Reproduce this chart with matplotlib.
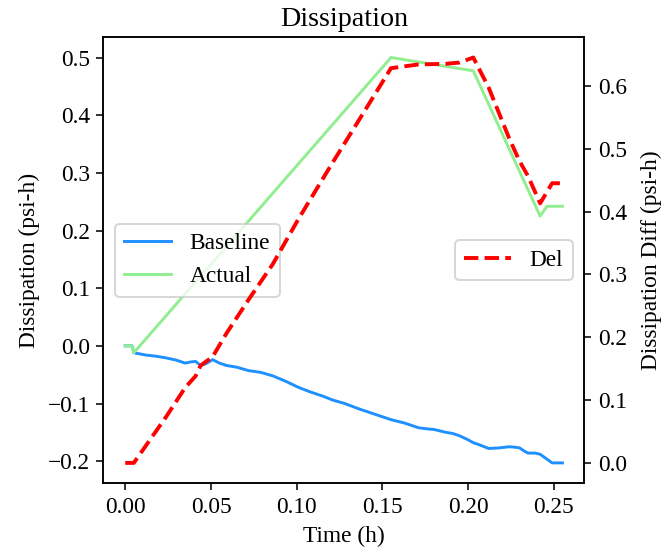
import numpy as np
import matplotlib.pyplot as plt

plt.rcParams['font.family'] = ['Liberation Serif', 'DejaVu Serif']
plt.rcParams['font.size'] = 12

# baseline dissipation (psi-h)
t_base = [0.0, 0.004, 0.005, 0.012, 0.018, 0.024, 0.030, 0.035, 0.038, 0.041,
          0.044, 0.047, 0.051, 0.055, 0.059, 0.065, 0.072, 0.079, 0.086, 0.094,
          0.101, 0.108, 0.115, 0.121, 0.128, 0.136, 0.142, 0.148, 0.155, 0.163,
          0.171, 0.176, 0.180, 0.187, 0.191, 0.195, 0.200, 0.203, 0.206, 0.212,
          0.218, 0.224, 0.228, 0.230, 0.233, 0.235, 0.239, 0.242, 0.249, 0.255]
baseline = [0.0, 0.0, -0.012, -0.016, -0.018, -0.021, -0.025, -0.030, -0.028, -0.027,
            -0.034, -0.031, -0.024, -0.030, -0.034, -0.037, -0.043, -0.046, -0.052, -0.062,
            -0.072, -0.080, -0.087, -0.094, -0.100, -0.109, -0.115, -0.121, -0.128, -0.134,
            -0.142, -0.144, -0.145, -0.150, -0.152, -0.156, -0.163, -0.168, -0.171, -0.178,
            -0.177, -0.175, -0.176, -0.177, -0.183, -0.186, -0.186, -0.188, -0.203, -0.203]

# actual dissipation (psi-h)
t_act = [0.0, 0.004, 0.005, 0.155, 0.203, 0.242, 0.246, 0.255]
actual = [0.0, 0.0, -0.012, 0.500, 0.477, 0.225, 0.242, 0.242]

# difference actual - baseline
t_del = [0.0, 0.004, 0.005, 0.024, 0.035, 0.041, 0.044, 0.051, 0.059, 0.072,
         0.086, 0.101, 0.121, 0.136, 0.155, 0.171, 0.187, 0.195, 0.203,
         0.212, 0.224, 0.230, 0.235, 0.242, 0.249, 0.255]
delta = [0.0, 0.0, 0.0, 0.074, 0.120, 0.138, 0.155, 0.169, 0.206, 0.260,
         0.316, 0.388, 0.478, 0.544, 0.628, 0.634, 0.635, 0.637, 0.645,
         0.597, 0.516, 0.480, 0.456, 0.413, 0.445, 0.445]

fig = plt.figure(figsize=(667 / 140, 556 / 140), dpi=140)
ax = fig.add_axes([0.155, 0.131, 0.721, 0.802])
ax.plot(t_base, baseline, color='#1E90FF', lw=1.5, label='Baseline')
ax.plot(t_act, actual, color='#90EE90', lw=1.5, label='Actual')
ax.set_xlabel('Time (h)')
ax.set_ylabel('Dissipation (psi-h)')
ax.set_title('Dissipation')
ax.legend(loc='center left')

ax2 = ax.twinx()
ax2.plot(t_del, delta, color='red', lw=2, ls='--', label='Del')
ax2.set_ylabel('Dissipation Diff (psi-h)', labelpad=7)
ax2.legend(loc='center right')

fig.savefig('out.png', dpi=140)
